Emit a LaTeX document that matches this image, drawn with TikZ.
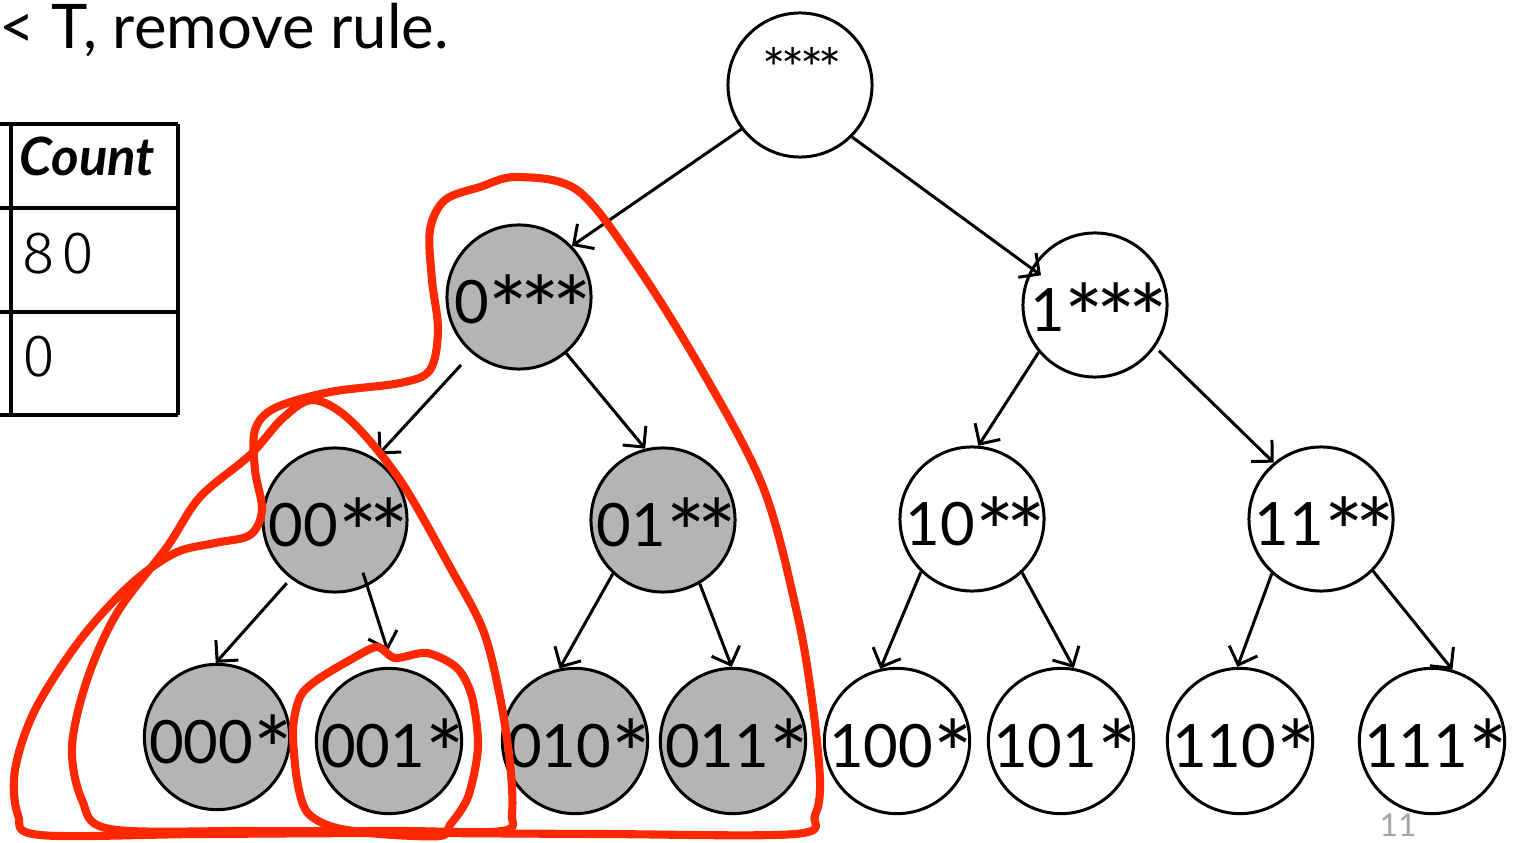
\documentclass[tikz,border=0pt]{standalone}
\usepackage{fontspec}
\usepackage{graphicx}
\setmainfont{Lato}
\newfontfamily\thinfont[LetterSpace=12]{Fira Sans Light}
\usetikzlibrary{arrows.meta}
\definecolor{hand}{RGB}{255,40,0}
\definecolor{nodegray}{RGB}{180,180,180}
\definecolor{pagegray}{RGB}{165,165,165}
\newcommand{\as}{\smash{\raisebox{-0.36em}{\scalebox{1.55}{*}}}\kern-0.13em}
\tikzset{
  circ/.style={circle, draw=black, line width=0.85pt, minimum size=1.44cm, inner sep=0pt,
               font=\fontsize{17}{17}\selectfont, text height=15pt, text depth=0pt},
  shaded/.style={circ, fill=nodegray},
  plain/.style={circ, fill=white},
  edge/.style={line width=0.85pt, -{Straight Barb[length=1.5mm,width=3mm]}},
  loop/.style={draw=hand, line width=2.3pt, line join=round},
  tline/.style={line width=0.9pt},
}
\begin{document}
\begin{tikzpicture}[x=0.01cm, y=-0.01cm]
\useasboundingbox (0,0) rectangle (1515,843);

% heading
\node[anchor=west, inner sep=0pt, font=\fontsize{17.5}{17.5}\selectfont] (head) at (-1,30) {< T, remove rule.};

% table
\draw[tline] (0,124) -- (178,124);
\draw[tline] (0,208) -- (178,208);
\draw[tline] (0,312) -- (178,312);
\draw[tline] (0,415) -- (178,415);
\draw[line width=1.1pt] (11,124) -- (11,415);
\draw[tline] (178,124) -- (178,415);
\node[anchor=base west, inner sep=0pt, font=\fontsize{15}{15}\selectfont\bfseries\itshape] (count) at (19,176) {Count};
\node[anchor=base west, inner sep=0pt, font=\fontsize{17}{17}\thinfont] (v80) at (22,274) {80};
\node[anchor=base west, inner sep=0pt, font=\fontsize{17}{17}\thinfont] (v0) at (22,377) {0};

% tree nodes
\node[plain] (root) at (800,85) {};
\node[inner sep=0pt, font=\fontsize{10}{10}\selectfont] (rootlbl) at (800,76) {\as\as\as\as};
\node[shaded] (n0) at (519,297) {0\as\as\as};
\node[plain] (n1) at (1095,305) {1\as\as\as};
\node[shaded] (n00) at (335,520) {00\as\as};
\node[shaded] (n01) at (663,520) {01\as\as};
\node[plain] (n10) at (972,519) {10\as\as};
\node[plain] (n11) at (1321,519) {11\as\as};
\node[shaded] (n000) at (217,737) {000\as};
\node[shaded] (n001) at (389,741) {001\as};
\node[shaded] (n010) at (575,741) {010\as};
\node[shaded] (n011) at (733,741) {011\as};
\node[plain] (n100) at (897,741) {100\as};
\node[plain] (n101) at (1061,741) {101\as};
\node[plain] (n110) at (1240,741) {110\as};
\node[plain] (n111) at (1432,741) {111\as};

% edges
\draw[edge] (root.217) -- (n0.44);
\draw[edge, shorten >=-3.4pt] (root.-45) -- (n1.150);
\draw[edge, shorten <=4.5pt, shorten >=1.5pt] (n0.230) -- (n00.57);
\draw[edge] (n0.-50) -- (n01.104);
\draw[edge, shorten <=1.7pt] (n00.233) -- (n000.91);
\draw[edge, shorten <=-4pt, shorten >=4.8pt] (n00.-64) -- (n001.87);
\draw[edge] (n01.227) -- (n010.102);
\draw[edge] (n01.-60) -- (n011.91);
\draw[edge] (n1.220) -- (n10.85);
\draw[edge, shorten <=1.5pt] (n1.-35) -- (n11.130);
\draw[edge] (n10.226) -- (n100.103);
\draw[edge] (n10.-47) -- (n101.80);
\draw[edge] (n11.228) -- (n110.92);
\draw[edge] (n11.-45) -- (n111.74);

% page number
\node[anchor=north, inner sep=0pt, text=pagegray, font=\fontsize{9}{9}\selectfont] (page) at (1398,813) {11};

% hand-drawn loops
\draw[loop] plot[smooth cycle, tension=0.55] coordinates {
 (517,177) (577,190) (633,260) (700,367) (763,487) (797,613) (812,700) (820,780) (815,815) (795,834)
 (600,834) (400,833) (200,834) (40,835) (18,815) (15,770) (35,710) (80,640) (130,585) (175,553)
 (215,543) (250,535) (262,510) (255,470) (255,430) (275,408) (330,392) (400,383) (430,370) (438,330)
 (432,280) (430,230) (445,200) (480,187)};
\draw[loop] plot[smooth cycle, tension=0.55] coordinates {
 (313,400) (350,420) (400,480) (450,567) (483,630) (500,697) (510,763) (512,813) (502,831)
 (400,831) (250,831) (110,829) (82,800) (72,747) (87,680) (117,613) (167,547) (200,497) (250,455) (283,418)};
\draw[loop] plot[smooth cycle, tension=0.5] coordinates {
 (377,647) (395,658) (427,653) (457,668) (472,697) (478,747) (468,797) (450,825) (440,836)
 (380,834) (333,827) (307,812) (297,780) (293,730) (300,697) (317,680) (350,660)};
\end{tikzpicture}
\end{document}
